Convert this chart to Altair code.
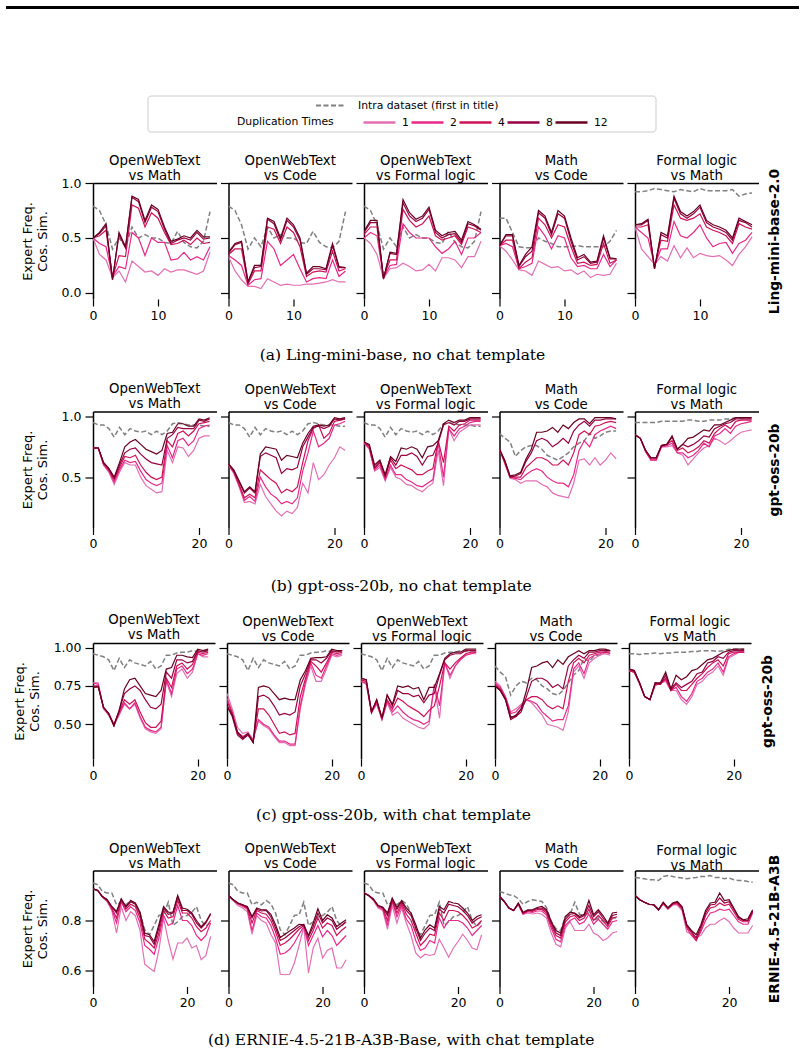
import altair as alt
import pandas as pd

# ---------------------------------------------------------------- series keys
DUPLICATION = ["1", "2", "4", "8", "12"]
DUP_COLORS = ["#e26fb4", "#e7298a", "#ce1256", "#980043", "#67001f"]
INTRA_LABEL = "Intra dataset (first in title)"
INTRA_COLOR = "#808080"
PAIRS = [
    ["OpenWebText", "vs Math"],
    ["OpenWebText", "vs Code"],
    ["OpenWebText", "vs Formal logic"],
    ["Math", "vs Code"],
    ["Formal logic", "vs Math"],
]
Y_TITLE = ["Expert Freq.", "Cos. Sim."]

# ------------------------------------------------ (a) Ling-mini-base-2.0
LING_INTRA_OWT = [0.79, 0.75, 0.62, 0.40, 0.50, 0.42, 0.60, 0.50, 0.53, 0.50, 0.50, 0.46, 0.45, 0.56, 0.46, 0.42, 0.41, 0.47, 0.74]
LING_INTRA_MATH = [0.68, 0.68, 0.55, 0.42, 0.41, 0.41, 0.50, 0.47, 0.45, 0.42, 0.42, 0.42, 0.43, 0.42, 0.42, 0.42, 0.42, 0.47, 0.57]
LING_INTRA_FORMAL = [0.92, 0.92, 0.93, 0.95, 0.94, 0.93, 0.92, 0.94, 0.93, 0.92, 0.95, 0.93, 0.93, 0.93, 0.93, 0.94, 0.88, 0.90, 0.91]

LING_OWT_MATH = [
    [0.50, 0.35, 0.30, 0.14, 0.20, 0.10, 0.29, 0.24, 0.19, 0.20, 0.16, 0.22, 0.19, 0.21, 0.21, 0.19, 0.17, 0.20, 0.37],
    [0.50, 0.45, 0.42, 0.15, 0.24, 0.22, 0.55, 0.50, 0.34, 0.50, 0.46, 0.46, 0.30, 0.31, 0.37, 0.30, 0.33, 0.30, 0.42],
    [0.50, 0.52, 0.57, 0.14, 0.34, 0.33, 0.80, 0.77, 0.60, 0.73, 0.68, 0.55, 0.44, 0.45, 0.48, 0.44, 0.50, 0.45, 0.46],
    [0.50, 0.54, 0.61, 0.12, 0.53, 0.41, 0.87, 0.83, 0.64, 0.78, 0.74, 0.58, 0.45, 0.48, 0.50, 0.48, 0.55, 0.49, 0.50],
    [0.50, 0.55, 0.63, 0.12, 0.55, 0.42, 0.88, 0.85, 0.66, 0.80, 0.76, 0.60, 0.47, 0.49, 0.52, 0.50, 0.57, 0.51, 0.51],
]
LING_OWT_CODE = [
    [0.33, 0.20, 0.12, 0.06, 0.06, 0.04, 0.13, 0.10, 0.07, 0.08, 0.07, 0.07, 0.08, 0.08, 0.09, 0.10, 0.12, 0.10, 0.10],
    [0.34, 0.30, 0.25, 0.07, 0.12, 0.13, 0.47, 0.40, 0.25, 0.30, 0.35, 0.22, 0.10, 0.13, 0.14, 0.13, 0.30, 0.15, 0.20],
    [0.35, 0.40, 0.40, 0.08, 0.20, 0.20, 0.60, 0.58, 0.45, 0.60, 0.55, 0.42, 0.15, 0.19, 0.20, 0.19, 0.38, 0.20, 0.22],
    [0.36, 0.44, 0.46, 0.10, 0.23, 0.24, 0.67, 0.63, 0.48, 0.66, 0.60, 0.48, 0.17, 0.22, 0.22, 0.21, 0.43, 0.23, 0.23],
    [0.37, 0.45, 0.47, 0.10, 0.25, 0.25, 0.68, 0.65, 0.50, 0.68, 0.62, 0.50, 0.18, 0.24, 0.24, 0.22, 0.45, 0.24, 0.23],
]
LING_OWT_FORMAL = [
    [0.50, 0.45, 0.35, 0.13, 0.22, 0.23, 0.27, 0.24, 0.20, 0.21, 0.26, 0.20, 0.32, 0.32, 0.30, 0.23, 0.33, 0.33, 0.47],
    [0.50, 0.55, 0.52, 0.14, 0.25, 0.26, 0.63, 0.55, 0.50, 0.50, 0.50, 0.42, 0.36, 0.40, 0.47, 0.35, 0.50, 0.50, 0.55],
    [0.53, 0.60, 0.60, 0.14, 0.30, 0.30, 0.76, 0.66, 0.60, 0.63, 0.70, 0.52, 0.48, 0.50, 0.52, 0.44, 0.60, 0.58, 0.55],
    [0.55, 0.64, 0.64, 0.13, 0.36, 0.35, 0.82, 0.70, 0.65, 0.68, 0.76, 0.55, 0.50, 0.53, 0.54, 0.46, 0.63, 0.61, 0.57],
    [0.56, 0.66, 0.66, 0.13, 0.37, 0.36, 0.85, 0.73, 0.67, 0.70, 0.78, 0.57, 0.52, 0.55, 0.56, 0.48, 0.65, 0.62, 0.58],
]
LING_MATH_CODE = [
    [0.43, 0.38, 0.30, 0.21, 0.20, 0.16, 0.29, 0.26, 0.23, 0.24, 0.20, 0.21, 0.17, 0.20, 0.14, 0.17, 0.16, 0.17, 0.27],
    [0.43, 0.45, 0.42, 0.22, 0.24, 0.27, 0.60, 0.52, 0.40, 0.52, 0.50, 0.32, 0.24, 0.25, 0.22, 0.22, 0.35, 0.24, 0.30],
    [0.43, 0.48, 0.48, 0.22, 0.28, 0.32, 0.68, 0.62, 0.50, 0.62, 0.60, 0.42, 0.27, 0.28, 0.25, 0.26, 0.45, 0.27, 0.30],
    [0.43, 0.52, 0.52, 0.24, 0.33, 0.38, 0.73, 0.68, 0.53, 0.72, 0.68, 0.47, 0.30, 0.33, 0.27, 0.28, 0.50, 0.31, 0.31],
    [0.43, 0.53, 0.53, 0.25, 0.35, 0.42, 0.75, 0.70, 0.55, 0.75, 0.70, 0.50, 0.32, 0.35, 0.28, 0.29, 0.52, 0.32, 0.31],
]
LING_FORMAL_MATH = [
    [0.60, 0.40, 0.33, 0.26, 0.33, 0.29, 0.43, 0.32, 0.41, 0.32, 0.36, 0.34, 0.33, 0.34, 0.30, 0.25, 0.35, 0.42, 0.51],
    [0.60, 0.55, 0.50, 0.25, 0.40, 0.40, 0.65, 0.52, 0.50, 0.55, 0.62, 0.50, 0.42, 0.45, 0.46, 0.36, 0.45, 0.48, 0.55],
    [0.60, 0.60, 0.62, 0.23, 0.48, 0.47, 0.80, 0.68, 0.66, 0.68, 0.72, 0.60, 0.57, 0.55, 0.52, 0.45, 0.63, 0.60, 0.58],
    [0.62, 0.62, 0.66, 0.22, 0.53, 0.50, 0.86, 0.72, 0.68, 0.72, 0.78, 0.64, 0.60, 0.58, 0.55, 0.48, 0.66, 0.64, 0.60],
    [0.62, 0.63, 0.67, 0.22, 0.55, 0.52, 0.88, 0.74, 0.70, 0.74, 0.80, 0.66, 0.62, 0.60, 0.57, 0.50, 0.68, 0.65, 0.62],
]

# ------------------------------------- (b) gpt-oss-20b, no chat template
GPT_INTRA_OWT = [0.95, 0.93, 0.93, 0.90, 0.83, 0.91, 0.85, 0.90, 0.88, 0.87, 0.88, 0.85, 0.88, 0.85, 0.88, 0.94, 0.95, 0.94, 0.93, 0.93, 0.93, 0.92, 0.92]
GPT_INTRA_MATH = [0.86, 0.82, 0.79, 0.67, 0.72, 0.75, 0.76, 0.76, 0.73, 0.68, 0.66, 0.64, 0.67, 0.70, 0.75, 0.78, 0.80, 0.86, 0.82, 0.84, 0.87, 0.88, 0.88]
GPT_INTRA_FORMAL = [0.95, 0.95, 0.95, 0.95, 0.95, 0.96, 0.96, 0.96, 0.96, 0.96, 0.97, 0.97, 0.96, 0.96, 0.97, 0.97, 0.97, 0.98, 0.98, 0.99, 0.99, 0.99, 0.99]

GPT_OWT_MATH = [
    [0.74, 0.74, 0.60, 0.54, 0.44, 0.54, 0.62, 0.60, 0.60, 0.50, 0.43, 0.40, 0.37, 0.38, 0.72, 0.62, 0.75, 0.74, 0.67, 0.72, 0.82, 0.84, 0.84],
    [0.74, 0.74, 0.60, 0.55, 0.46, 0.56, 0.64, 0.62, 0.63, 0.55, 0.48, 0.45, 0.43, 0.45, 0.76, 0.66, 0.80, 0.82, 0.76, 0.80, 0.90, 0.92, 0.93],
    [0.74, 0.74, 0.61, 0.56, 0.48, 0.58, 0.67, 0.66, 0.68, 0.60, 0.54, 0.50, 0.48, 0.50, 0.80, 0.75, 0.86, 0.88, 0.84, 0.88, 0.94, 0.95, 0.96],
    [0.74, 0.74, 0.62, 0.57, 0.49, 0.60, 0.70, 0.73, 0.74, 0.69, 0.65, 0.62, 0.61, 0.60, 0.82, 0.85, 0.91, 0.90, 0.90, 0.90, 0.97, 0.96, 0.98],
    [0.74, 0.74, 0.62, 0.57, 0.50, 0.62, 0.75, 0.79, 0.81, 0.77, 0.73, 0.71, 0.69, 0.72, 0.86, 0.87, 0.94, 0.94, 0.92, 0.92, 0.98, 0.97, 0.99],
]
GPT_OWT_CODE = [
    [0.60, 0.53, 0.42, 0.29, 0.30, 0.28, 0.44, 0.34, 0.28, 0.22, 0.18, 0.22, 0.20, 0.25, 0.45, 0.37, 0.62, 0.48, 0.52, 0.60, 0.66, 0.75, 0.72],
    [0.60, 0.54, 0.43, 0.31, 0.34, 0.30, 0.50, 0.42, 0.36, 0.33, 0.28, 0.30, 0.28, 0.33, 0.55, 0.70, 0.88, 0.75, 0.78, 0.82, 0.93, 0.94, 0.96],
    [0.61, 0.55, 0.44, 0.33, 0.36, 0.33, 0.56, 0.52, 0.48, 0.45, 0.37, 0.40, 0.38, 0.42, 0.62, 0.80, 0.90, 0.93, 0.82, 0.86, 0.96, 0.97, 0.98],
    [0.61, 0.55, 0.46, 0.37, 0.41, 0.37, 0.67, 0.70, 0.68, 0.66, 0.53, 0.57, 0.56, 0.58, 0.75, 0.83, 0.91, 0.92, 0.90, 0.92, 0.98, 0.97, 0.98],
    [0.61, 0.56, 0.47, 0.38, 0.42, 0.38, 0.69, 0.75, 0.74, 0.73, 0.64, 0.68, 0.67, 0.66, 0.78, 0.86, 0.92, 0.93, 0.92, 0.93, 0.99, 0.98, 0.99],
]
GPT_OWT_FORMAL = [
    [0.78, 0.73, 0.55, 0.58, 0.47, 0.58, 0.50, 0.48, 0.44, 0.43, 0.40, 0.38, 0.42, 0.45, 0.72, 0.43, 0.90, 0.80, 0.87, 0.90, 0.93, 0.93, 0.93],
    [0.78, 0.74, 0.56, 0.60, 0.48, 0.60, 0.52, 0.52, 0.48, 0.46, 0.43, 0.42, 0.45, 0.48, 0.78, 0.50, 0.90, 0.84, 0.90, 0.92, 0.95, 0.96, 0.96],
    [0.79, 0.75, 0.57, 0.62, 0.50, 0.64, 0.57, 0.60, 0.58, 0.56, 0.52, 0.52, 0.55, 0.57, 0.80, 0.62, 0.92, 0.88, 0.93, 0.94, 0.97, 0.97, 0.97],
    [0.79, 0.76, 0.58, 0.63, 0.51, 0.66, 0.60, 0.68, 0.68, 0.70, 0.67, 0.60, 0.67, 0.68, 0.78, 0.93, 0.95, 0.93, 0.96, 0.96, 0.98, 0.98, 0.98],
    [0.79, 0.77, 0.60, 0.64, 0.52, 0.67, 0.63, 0.74, 0.73, 0.75, 0.73, 0.66, 0.75, 0.76, 0.80, 0.94, 0.97, 0.95, 0.97, 0.97, 0.99, 0.99, 0.99],
]
GPT_MATH_CODE = [
    [0.73, 0.61, 0.49, 0.48, 0.45, 0.47, 0.47, 0.47, 0.44, 0.42, 0.37, 0.35, 0.34, 0.33, 0.45, 0.64, 0.65, 0.60, 0.66, 0.60, 0.64, 0.70, 0.65],
    [0.73, 0.62, 0.50, 0.49, 0.48, 0.52, 0.55, 0.57, 0.55, 0.50, 0.47, 0.45, 0.45, 0.42, 0.52, 0.72, 0.80, 0.75, 0.85, 0.88, 0.90, 0.92, 0.90],
    [0.73, 0.62, 0.50, 0.50, 0.50, 0.58, 0.62, 0.66, 0.66, 0.64, 0.60, 0.60, 0.64, 0.60, 0.70, 0.85, 0.88, 0.85, 0.92, 0.93, 0.95, 0.96, 0.95],
    [0.73, 0.63, 0.50, 0.51, 0.53, 0.63, 0.70, 0.80, 0.82, 0.80, 0.75, 0.78, 0.82, 0.78, 0.88, 0.93, 0.96, 0.92, 0.97, 0.97, 0.98, 0.98, 0.98],
    [0.73, 0.64, 0.51, 0.52, 0.54, 0.65, 0.73, 0.87, 0.87, 0.88, 0.91, 0.87, 0.93, 0.90, 0.95, 0.98, 0.98, 0.94, 0.99, 0.99, 0.99, 0.99, 0.98],
]
GPT_FORMAL_MATH = [
    [0.85, 0.82, 0.71, 0.64, 0.64, 0.75, 0.75, 0.76, 0.70, 0.68, 0.60, 0.65, 0.70, 0.74, 0.76, 0.82, 0.80, 0.77, 0.80, 0.84, 0.87, 0.88, 0.89],
    [0.85, 0.82, 0.71, 0.64, 0.64, 0.75, 0.76, 0.78, 0.70, 0.70, 0.66, 0.68, 0.72, 0.78, 0.75, 0.84, 0.86, 0.90, 0.86, 0.92, 0.94, 0.95, 0.96],
    [0.85, 0.82, 0.72, 0.65, 0.65, 0.76, 0.77, 0.80, 0.72, 0.74, 0.70, 0.72, 0.75, 0.80, 0.78, 0.86, 0.90, 0.93, 0.90, 0.96, 0.97, 0.97, 0.97],
    [0.85, 0.82, 0.72, 0.66, 0.66, 0.76, 0.77, 0.83, 0.73, 0.77, 0.75, 0.77, 0.80, 0.84, 0.83, 0.90, 0.92, 0.94, 0.95, 0.98, 0.98, 0.98, 0.98],
    [0.85, 0.82, 0.72, 0.66, 0.66, 0.76, 0.77, 0.84, 0.73, 0.77, 0.82, 0.83, 0.86, 0.89, 0.88, 0.93, 0.93, 0.95, 0.97, 0.99, 0.99, 0.99, 0.99],
]

# ----------------------------------- (c) gpt-oss-20b, with chat template
GPTC_INTRA_OWT = [0.96, 0.95, 0.94, 0.92, 0.85, 0.93, 0.87, 0.92, 0.90, 0.89, 0.88, 0.91, 0.86, 0.88, 0.95, 0.95, 0.965, 0.97, 0.97, 0.98, 0.975, 0.98, 0.98]
GPTC_INTRA_MATH = [0.88, 0.84, 0.81, 0.69, 0.75, 0.78, 0.77, 0.80, 0.79, 0.75, 0.73, 0.70, 0.69, 0.72, 0.77, 0.82, 0.85, 0.93, 0.91, 0.95, 0.95, 0.97, 0.98]
GPTC_INTRA_FORMAL = [0.96, 0.96, 0.955, 0.96, 0.96, 0.965, 0.96, 0.965, 0.965, 0.97, 0.97, 0.97, 0.975, 0.975, 0.98, 0.98, 0.98, 0.975, 0.98, 0.99, 0.99, 0.99, 0.99]

GPTC_OWT_MATH = [
    [0.77, 0.77, 0.60, 0.56, 0.49, 0.56, 0.63, 0.60, 0.63, 0.54, 0.47, 0.45, 0.44, 0.47, 0.78, 0.68, 0.83, 0.86, 0.80, 0.84, 0.96, 0.94, 0.94],
    [0.77, 0.76, 0.61, 0.56, 0.50, 0.57, 0.64, 0.60, 0.64, 0.55, 0.48, 0.46, 0.45, 0.48, 0.79, 0.70, 0.86, 0.88, 0.83, 0.86, 0.96, 0.95, 0.96],
    [0.75, 0.75, 0.61, 0.57, 0.50, 0.58, 0.66, 0.63, 0.66, 0.58, 0.51, 0.48, 0.48, 0.52, 0.80, 0.74, 0.88, 0.90, 0.86, 0.89, 0.97, 0.96, 0.97],
    [0.74, 0.745, 0.61, 0.57, 0.49, 0.59, 0.70, 0.73, 0.75, 0.72, 0.66, 0.61, 0.60, 0.63, 0.84, 0.80, 0.92, 0.92, 0.90, 0.91, 0.98, 0.97, 0.98],
    [0.74, 0.745, 0.61, 0.57, 0.49, 0.59, 0.73, 0.79, 0.80, 0.75, 0.70, 0.69, 0.68, 0.72, 0.86, 0.87, 0.95, 0.95, 0.94, 0.935, 0.99, 0.98, 0.99],
]
GPTC_OWT_CODE = [
    [0.70, 0.60, 0.48, 0.44, 0.45, 0.40, 0.52, 0.49, 0.47, 0.42, 0.38, 0.38, 0.36, 0.36, 0.60, 0.76, 0.88, 0.78, 0.78, 0.86, 0.95, 0.94, 0.95],
    [0.67, 0.58, 0.45, 0.42, 0.44, 0.40, 0.53, 0.50, 0.48, 0.43, 0.39, 0.39, 0.37, 0.37, 0.62, 0.78, 0.90, 0.82, 0.80, 0.88, 0.96, 0.95, 0.96],
    [0.65, 0.57, 0.44, 0.41, 0.43, 0.39, 0.60, 0.60, 0.56, 0.50, 0.44, 0.45, 0.43, 0.44, 0.68, 0.80, 0.91, 0.88, 0.84, 0.90, 0.97, 0.96, 0.97],
    [0.62, 0.55, 0.43, 0.40, 0.43, 0.38, 0.68, 0.69, 0.67, 0.62, 0.56, 0.57, 0.56, 0.58, 0.75, 0.83, 0.92, 0.92, 0.90, 0.93, 0.98, 0.97, 0.98],
    [0.62, 0.56, 0.45, 0.41, 0.44, 0.38, 0.74, 0.75, 0.74, 0.70, 0.66, 0.67, 0.66, 0.66, 0.79, 0.85, 0.93, 0.935, 0.935, 0.94, 0.99, 0.98, 0.98],
]
GPTC_OWT_FORMAL = [
    [0.78, 0.76, 0.57, 0.63, 0.53, 0.64, 0.56, 0.58, 0.54, 0.52, 0.50, 0.48, 0.47, 0.50, 0.75, 0.54, 0.90, 0.80, 0.88, 0.93, 0.95, 0.96, 0.96],
    [0.78, 0.77, 0.58, 0.64, 0.53, 0.65, 0.58, 0.62, 0.58, 0.55, 0.53, 0.52, 0.50, 0.52, 0.76, 0.62, 0.90, 0.82, 0.88, 0.92, 0.95, 0.96, 0.97],
    [0.79, 0.78, 0.58, 0.65, 0.54, 0.66, 0.60, 0.67, 0.65, 0.62, 0.60, 0.58, 0.55, 0.59, 0.62, 0.75, 0.90, 0.86, 0.90, 0.93, 0.96, 0.97, 0.97],
    [0.80, 0.79, 0.58, 0.66, 0.54, 0.69, 0.62, 0.72, 0.70, 0.70, 0.68, 0.69, 0.64, 0.69, 0.70, 0.82, 0.92, 0.95, 0.96, 0.96, 0.98, 0.98, 0.98],
    [0.80, 0.79, 0.58, 0.66, 0.54, 0.69, 0.63, 0.75, 0.74, 0.75, 0.73, 0.74, 0.66, 0.74, 0.74, 0.83, 0.93, 0.96, 0.97, 0.97, 0.99, 0.99, 0.99],
]
GPTC_MATH_CODE = [
    [0.78, 0.75, 0.68, 0.58, 0.60, 0.63, 0.66, 0.64, 0.60, 0.56, 0.50, 0.49, 0.48, 0.46, 0.58, 0.84, 0.88, 0.80, 0.90, 0.93, 0.95, 0.96, 0.95],
    [0.77, 0.74, 0.68, 0.57, 0.58, 0.62, 0.66, 0.65, 0.63, 0.58, 0.55, 0.52, 0.53, 0.53, 0.62, 0.86, 0.90, 0.83, 0.93, 0.95, 0.96, 0.97, 0.96],
    [0.76, 0.73, 0.67, 0.55, 0.55, 0.60, 0.66, 0.68, 0.68, 0.66, 0.62, 0.60, 0.62, 0.60, 0.78, 0.90, 0.93, 0.90, 0.95, 0.96, 0.97, 0.97, 0.97],
    [0.75, 0.72, 0.66, 0.53, 0.55, 0.58, 0.68, 0.78, 0.80, 0.80, 0.78, 0.74, 0.76, 0.73, 0.88, 0.92, 0.95, 0.93, 0.97, 0.97, 0.98, 0.98, 0.98],
    [0.75, 0.72, 0.66, 0.54, 0.56, 0.60, 0.72, 0.87, 0.88, 0.90, 0.91, 0.87, 0.92, 0.89, 0.94, 0.96, 0.98, 0.96, 0.98, 0.98, 0.99, 0.99, 0.98],
]
GPTC_FORMAL_MATH = [
    [0.85, 0.84, 0.76, 0.68, 0.66, 0.75, 0.77, 0.78, 0.72, 0.72, 0.66, 0.63, 0.68, 0.76, 0.78, 0.82, 0.84, 0.88, 0.82, 0.93, 0.95, 0.97, 0.97],
    [0.85, 0.84, 0.77, 0.68, 0.66, 0.76, 0.77, 0.79, 0.72, 0.74, 0.68, 0.65, 0.70, 0.78, 0.80, 0.84, 0.86, 0.90, 0.84, 0.94, 0.96, 0.97, 0.97],
    [0.85, 0.84, 0.77, 0.68, 0.66, 0.76, 0.76, 0.80, 0.72, 0.76, 0.72, 0.72, 0.76, 0.80, 0.83, 0.87, 0.90, 0.92, 0.88, 0.96, 0.97, 0.97, 0.97],
    [0.86, 0.85, 0.77, 0.68, 0.66, 0.77, 0.76, 0.82, 0.73, 0.77, 0.74, 0.76, 0.78, 0.83, 0.84, 0.90, 0.91, 0.94, 0.93, 0.97, 0.98, 0.98, 0.98],
    [0.86, 0.85, 0.77, 0.68, 0.66, 0.77, 0.77, 0.84, 0.73, 0.82, 0.79, 0.81, 0.85, 0.86, 0.89, 0.92, 0.93, 0.95, 0.97, 0.98, 0.99, 0.99, 0.99],
]

# ------------------------------ (d) ERNIE-4.5-21B-A3B-Base, chat template
ERNIE_INTRA_OWT = [0.95, 0.943, 0.916, 0.91, 0.91, 0.863, 0.873, 0.863, 0.88, 0.867, 0.83, 0.763, 0.743, 0.78, 0.82, 0.823, 0.873, 0.78, 0.795, 0.815, 0.82, 0.833, 0.856, 0.80, 0.776, 0.796]
ERNIE_INTRA_MATH = [0.916, 0.91, 0.903, 0.90, 0.887, 0.865, 0.876, 0.883, 0.88, 0.876, 0.852, 0.796, 0.767, 0.76, 0.816, 0.825, 0.873, 0.825, 0.82, 0.83, 0.80, 0.81, 0.796, 0.783, 0.81, 0.81]
ERNIE_INTRA_FORMAL = [0.972, 0.97, 0.967, 0.963, 0.963, 0.96, 0.976, 0.98, 0.976, 0.972, 0.97, 0.967, 0.97, 0.972, 0.976, 0.976, 0.98, 0.972, 0.972, 0.967, 0.97, 0.963, 0.96, 0.96, 0.956, 0.953]

ERNIE_OWT_MATH = [
    [0.927, 0.92, 0.893, 0.875, 0.84, 0.75, 0.855, 0.80, 0.835, 0.82, 0.76, 0.625, 0.61, 0.596, 0.68, 0.81, 0.72, 0.645, 0.71, 0.71, 0.73, 0.69, 0.70, 0.643, 0.66, 0.736],
    [0.927, 0.92, 0.895, 0.88, 0.845, 0.79, 0.875, 0.835, 0.855, 0.84, 0.79, 0.70, 0.685, 0.665, 0.73, 0.82, 0.78, 0.79, 0.86, 0.80, 0.80, 0.78, 0.74, 0.72, 0.74, 0.79],
    [0.927, 0.92, 0.895, 0.88, 0.85, 0.81, 0.88, 0.845, 0.865, 0.855, 0.81, 0.725, 0.71, 0.69, 0.75, 0.84, 0.81, 0.815, 0.88, 0.83, 0.83, 0.81, 0.775, 0.755, 0.77, 0.80],
    [0.927, 0.92, 0.896, 0.883, 0.855, 0.83, 0.885, 0.853, 0.875, 0.865, 0.825, 0.74, 0.735, 0.705, 0.77, 0.85, 0.825, 0.83, 0.895, 0.84, 0.84, 0.825, 0.79, 0.77, 0.79, 0.825],
    [0.927, 0.92, 0.896, 0.883, 0.856, 0.836, 0.887, 0.856, 0.88, 0.87, 0.833, 0.75, 0.743, 0.716, 0.783, 0.856, 0.833, 0.833, 0.90, 0.85, 0.845, 0.83, 0.80, 0.775, 0.795, 0.828],
]
ERNIE_OWT_CODE = [
    [0.90, 0.88, 0.86, 0.85, 0.835, 0.745, 0.82, 0.80, 0.79, 0.745, 0.71, 0.585, 0.583, 0.585, 0.63, 0.70, 0.775, 0.59, 0.69, 0.73, 0.65, 0.68, 0.69, 0.61, 0.61, 0.643],
    [0.90, 0.882, 0.866, 0.857, 0.845, 0.76, 0.83, 0.815, 0.81, 0.78, 0.73, 0.665, 0.67, 0.685, 0.71, 0.745, 0.775, 0.70, 0.74, 0.78, 0.735, 0.76, 0.74, 0.70, 0.72, 0.74],
    [0.90, 0.883, 0.868, 0.86, 0.85, 0.79, 0.84, 0.83, 0.825, 0.80, 0.755, 0.70, 0.71, 0.725, 0.745, 0.765, 0.78, 0.72, 0.76, 0.81, 0.77, 0.79, 0.78, 0.74, 0.76, 0.775],
    [0.90, 0.883, 0.87, 0.863, 0.853, 0.81, 0.845, 0.838, 0.84, 0.815, 0.77, 0.72, 0.73, 0.745, 0.76, 0.775, 0.785, 0.735, 0.775, 0.83, 0.79, 0.81, 0.80, 0.765, 0.78, 0.795],
    [0.90, 0.883, 0.87, 0.863, 0.856, 0.816, 0.85, 0.843, 0.843, 0.825, 0.783, 0.732, 0.745, 0.758, 0.77, 0.785, 0.783, 0.74, 0.79, 0.847, 0.80, 0.823, 0.81, 0.776, 0.79, 0.803],
]
ERNIE_OWT_FORMAL = [
    [0.91, 0.90, 0.88, 0.85, 0.84, 0.765, 0.86, 0.79, 0.85, 0.79, 0.74, 0.67, 0.65, 0.665, 0.66, 0.665, 0.725, 0.69, 0.653, 0.69, 0.716, 0.745, 0.72, 0.69, 0.683, 0.743],
    [0.91, 0.90, 0.883, 0.855, 0.845, 0.78, 0.875, 0.815, 0.86, 0.805, 0.78, 0.72, 0.68, 0.69, 0.72, 0.71, 0.81, 0.77, 0.80, 0.80, 0.80, 0.79, 0.77, 0.74, 0.76, 0.78],
    [0.91, 0.90, 0.884, 0.858, 0.85, 0.80, 0.88, 0.83, 0.868, 0.825, 0.80, 0.75, 0.70, 0.72, 0.745, 0.74, 0.83, 0.80, 0.84, 0.84, 0.835, 0.82, 0.80, 0.77, 0.78, 0.80],
    [0.91, 0.90, 0.885, 0.86, 0.852, 0.82, 0.885, 0.845, 0.875, 0.84, 0.82, 0.77, 0.72, 0.75, 0.77, 0.76, 0.845, 0.83, 0.865, 0.86, 0.855, 0.84, 0.82, 0.79, 0.805, 0.815],
    [0.91, 0.90, 0.885, 0.86, 0.853, 0.83, 0.89, 0.853, 0.88, 0.85, 0.83, 0.783, 0.73, 0.763, 0.783, 0.77, 0.856, 0.843, 0.876, 0.87, 0.867, 0.85, 0.83, 0.80, 0.816, 0.823],
]
ERNIE_MATH_CODE = [
    [0.896, 0.875, 0.85, 0.84, 0.864, 0.824, 0.83, 0.826, 0.83, 0.825, 0.81, 0.75, 0.705, 0.695, 0.77, 0.795, 0.76, 0.76, 0.76, 0.785, 0.75, 0.74, 0.72, 0.73, 0.75, 0.756],
    [0.896, 0.876, 0.85, 0.84, 0.865, 0.826, 0.835, 0.832, 0.838, 0.838, 0.822, 0.77, 0.725, 0.715, 0.78, 0.80, 0.81, 0.785, 0.795, 0.825, 0.785, 0.805, 0.785, 0.765, 0.795, 0.80],
    [0.896, 0.876, 0.85, 0.84, 0.866, 0.828, 0.838, 0.836, 0.844, 0.845, 0.83, 0.78, 0.74, 0.73, 0.795, 0.815, 0.82, 0.80, 0.81, 0.845, 0.80, 0.82, 0.80, 0.775, 0.81, 0.815],
    [0.896, 0.876, 0.85, 0.84, 0.868, 0.83, 0.84, 0.84, 0.848, 0.85, 0.837, 0.79, 0.75, 0.74, 0.805, 0.825, 0.828, 0.81, 0.82, 0.86, 0.815, 0.835, 0.81, 0.785, 0.82, 0.825],
    [0.896, 0.876, 0.85, 0.84, 0.87, 0.833, 0.843, 0.843, 0.852, 0.856, 0.843, 0.796, 0.76, 0.75, 0.816, 0.833, 0.83, 0.816, 0.825, 0.88, 0.823, 0.843, 0.82, 0.79, 0.83, 0.833],
]
ERNIE_FORMAL_MATH = [
    [0.90, 0.883, 0.872, 0.864, 0.862, 0.842, 0.866, 0.845, 0.862, 0.862, 0.84, 0.755, 0.745, 0.735, 0.74, 0.77, 0.785, 0.785, 0.80, 0.81, 0.795, 0.77, 0.75, 0.75, 0.75, 0.78],
    [0.90, 0.883, 0.873, 0.864, 0.862, 0.842, 0.868, 0.846, 0.864, 0.866, 0.846, 0.77, 0.74, 0.72, 0.755, 0.80, 0.83, 0.835, 0.845, 0.84, 0.845, 0.82, 0.795, 0.785, 0.785, 0.83],
    [0.90, 0.883, 0.873, 0.865, 0.863, 0.843, 0.87, 0.848, 0.866, 0.87, 0.85, 0.775, 0.75, 0.72, 0.765, 0.82, 0.85, 0.855, 0.87, 0.86, 0.865, 0.835, 0.805, 0.795, 0.795, 0.835],
    [0.90, 0.883, 0.873, 0.865, 0.863, 0.843, 0.872, 0.85, 0.868, 0.873, 0.853, 0.78, 0.756, 0.73, 0.775, 0.83, 0.862, 0.865, 0.89, 0.87, 0.875, 0.845, 0.812, 0.80, 0.80, 0.838],
    [0.90, 0.883, 0.873, 0.865, 0.863, 0.843, 0.873, 0.85, 0.87, 0.876, 0.856, 0.783, 0.76, 0.743, 0.783, 0.84, 0.87, 0.873, 0.91, 0.88, 0.883, 0.85, 0.816, 0.803, 0.807, 0.843],
]

# ------------------------------------------------------ per-row settings
PANEL_H = 116
ROWS = [
    dict(caption="(a) Ling-mini-base, no chat template", label="Ling-mini-base-2.0",
         intra=[LING_INTRA_OWT] * 3 + [LING_INTRA_MATH, LING_INTRA_FORMAL],
         dups=[LING_OWT_MATH, LING_OWT_CODE, LING_OWT_FORMAL, LING_MATH_CODE, LING_FORMAL_MATH],
         xmax=19.0, xticks=[0, 10], ydom=[-0.055, 1.0], yticks=[0.0, 0.5, 1.0], yfmt=".1f",
         width=123.5, gap=11.5, label_dy=13.75, cap_offset=26),
    dict(caption="(b) gpt-oss-20b, no chat template", label="gpt-oss-20b",
         intra=[GPT_INTRA_OWT] * 3 + [GPT_INTRA_MATH, GPT_INTRA_FORMAL],
         dups=[GPT_OWT_MATH, GPT_OWT_CODE, GPT_OWT_FORMAL, GPT_MATH_CODE, GPT_FORMAL_MATH],
         xmax=23.3, xticks=[0, 20], ydom=[0.085, 1.041], yticks=[0.5, 1.0], yfmt=".1f",
         width=123.5, gap=11.5, label_dy=0, cap_offset=29),
    dict(caption="(c) gpt-oss-20b, with chat template", label="gpt-oss-20b",
         intra=[GPTC_INTRA_OWT] * 3 + [GPTC_INTRA_MATH, GPTC_INTRA_FORMAL],
         dups=[GPTC_OWT_MATH, GPTC_OWT_CODE, GPTC_OWT_FORMAL, GPTC_MATH_CODE, GPTC_FORMAL_MATH],
         xmax=23.3, xticks=[0, 20], ydom=[0.273, 1.03], yticks=[0.5, 0.75, 1.0], yfmt=".2f",
         width=122, gap=12, label_dy=0, cap_offset=26),
    dict(caption="(d) ERNIE-4.5-21B-A3B-Base, with chat template", label="ERNIE-4.5-21B-A3B",
         intra=[ERNIE_INTRA_OWT] * 3 + [ERNIE_INTRA_MATH, ERNIE_INTRA_FORMAL],
         dups=[ERNIE_OWT_MATH, ERNIE_OWT_CODE, ERNIE_OWT_FORMAL, ERNIE_MATH_CODE, ERNIE_FORMAL_MATH],
         xmax=26.25, xticks=[0, 20], ydom=[0.536, 1.0], yticks=[0.6, 0.8], yfmt=".1f",
         width=123.5, gap=11.5, label_dy=18.25, cap_offset=24),
]

SANS = "DejaVu Sans"
SERIF = "DejaVu Serif"
COLOR_SCALE = alt.Scale(domain=DUPLICATION, range=DUP_COLORS)
DASH_SCALE = alt.Scale(domain=[INTRA_LABEL], range=[[5, 2.5]])
HEADER_DY = 176.25   # the page rule sits this far above the first panel's top spine

# legends, drawn once above the first panel (offsets relative to that panel)
COLOR_LEGEND = alt.Legend(
    title="Duplication Times", orient="none", legendX=144, legendY=-78,
    direction="horizontal", titleOrient="left", titleAnchor="middle", titleBaseline="top",
    titlePadding=28, titleFontWeight="normal", titleFont=SANS, titleFontSize=10.8,
    labelFont=SANS, labelFontSize=10.8, symbolType="stroke", symbolSize=1024,
    symbolStrokeWidth=2.6, symbolOpacity=1, labelOffset=5, columnPadding=-3,
    gridAlign="none", padding=0)
DASH_LEGEND = alt.Legend(
    title=None, orient="none", legendX=222, legendY=-93.5,
    labelFont=SANS, labelFontSize=10.8, symbolType="stroke", symbolSize=900,
    symbolStrokeWidth=2, symbolStrokeColor=INTRA_COLOR, symbolOpacity=1,
    labelOffset=11, padding=0)
ONE = pd.DataFrame({"k": [0]})


def panel(spec, p, with_header=False):
    first, last = p == 0, p == 4
    xs = alt.Scale(domain=[0, spec["xmax"]], nice=False, zero=False)
    ys = alt.Scale(domain=spec["ydom"], nice=False, zero=False)

    intra_df = pd.DataFrame({
        "layer": list(range(len(spec["intra"][p]))),
        "value": spec["intra"][p],
        "kind": INTRA_LABEL,
    })
    rows = []
    for dup, vals in zip(DUPLICATION, spec["dups"][p]):
        rows += [{"layer": i, "value": v, "dup": dup} for i, v in enumerate(vals)]
    dup_df = pd.DataFrame(rows)

    # dashed reference line; it also carries the top spine and the row label
    intra = alt.Chart(intra_df).mark_line(color=INTRA_COLOR, strokeWidth=1.5, clip=True).encode(
        x=alt.X("layer:Q", scale=xs, axis=alt.Axis(
            orient="top", labels=False, ticks=False, grid=False, title=None,
            domain=True, domainColor="black", domainWidth=1.5)),
        y=alt.Y("value:Q", scale=ys, axis=alt.Axis(
            orient="right", labels=False, ticks=False, grid=False, domain=False,
            title=spec["label"] if last else None, titleAngle=270, titleAlign="center",
            titleBaseline="middle", titleX=16, titleY=PANEL_H / 2,
            titleFontWeight="bold", titleFontSize=13.8)),
        strokeDash=alt.StrokeDash("kind:N", scale=DASH_SCALE,
                                  legend=DASH_LEGEND if with_header else None),
    )
    lines = alt.Chart(dup_df).mark_line(strokeWidth=1.2, clip=True).encode(
        x=alt.X("layer:Q", scale=xs, axis=alt.Axis(
            values=spec["xticks"], format="d", grid=False, domain=False, title=None,
            labelFlush=False, tickSize=7, labelPadding=3)),
        y=alt.Y("value:Q", scale=ys, axis=alt.Axis(
            values=spec["yticks"], format=spec["yfmt"], grid=False, labels=first,
            tickSize=8, labelPadding=4,
            title=Y_TITLE if first else None, titlePadding=12, titleLineHeight=15)),
        color=alt.Color("dup:N", scale=COLOR_SCALE,
                        legend=COLOR_LEGEND if with_header else None),
    )
    layers = [intra, lines]
    if with_header:
        # full-width page rule and the framed legend box above the first row
        layers.append(alt.Chart(ONE).mark_rule(color="black", strokeWidth=3).encode(
            x=alt.value(-87), x2=alt.value(706), y=alt.value(-175.5)))
        layers.insert(0, alt.Chart(ONE).mark_rect(
            fill="white", stroke="#cccccc", strokeWidth=1, cornerRadius=3).encode(
            x=alt.value(55), x2=alt.value(563), y=alt.value(-87), y2=alt.value(-51)))

    # titles sit above the group bounds; push them back down where those
    # bounds reach higher than the top spine
    title_dy = HEADER_DY if with_header else (spec["label_dy"] if last else 0)
    return alt.layer(*layers).resolve_axis(x="independent", y="independent").properties(
        width=spec["width"], height=PANEL_H,
        title=alt.TitleParams(PAIRS[p], font=SANS, fontSize=13.3, fontWeight="normal",
                              anchor="middle", frame="group", offset=0, lineHeight=15,
                              dy=title_dy, color="black"),
    )


def row(spec, r):
    panels = [panel(spec, p, with_header=(r == 0 and p == 0)) for p in range(5)]
    return alt.hconcat(*panels, spacing=spec["gap"], bounds="flush").properties(
        title=alt.TitleParams(spec["caption"], orient="bottom", anchor="middle", font=SERIF,
                              fontSize=15.5, fontWeight="normal", color="black",
                              offset=spec["cap_offset"])
    )


chart = alt.vconcat(*[row(s, r) for r, s in enumerate(ROWS)], spacing=18.5).configure(
    padding={"left": 4, "top": 6, "right": 0, "bottom": 0},
).configure_view(stroke=None).configure_axis(
    labelFont=SANS, labelFontSize=12.5, labelColor="black", titleFont=SANS, titleFontSize=13,
    titleFontWeight="normal", titleColor="black", tickColor="black", domainColor="black",
    tickWidth=1.2, domainWidth=1.5,
).configure_legend(labelColor="black", titleColor="black")

chart.save("out.html", embed_options={"renderer": "svg", "actions": False})
